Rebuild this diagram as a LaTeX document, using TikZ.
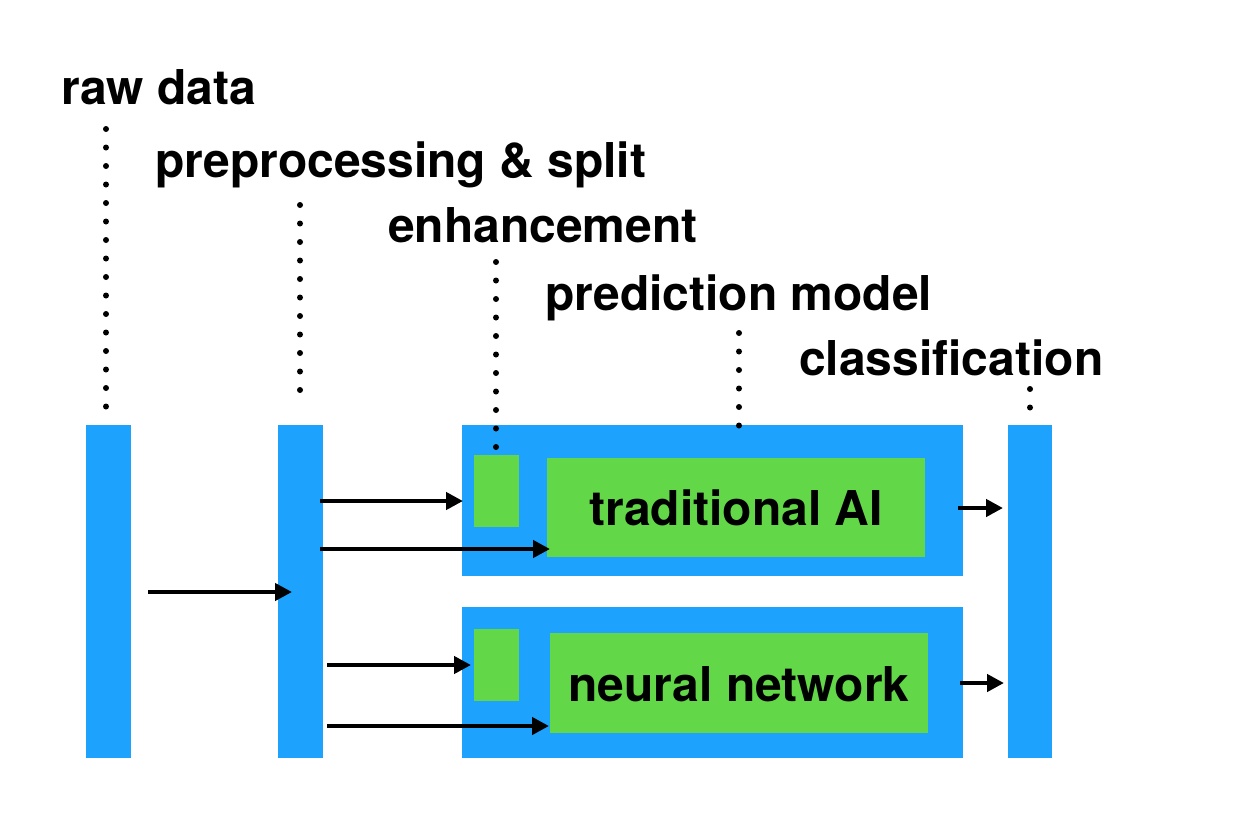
\documentclass[tikz,border=0pt]{standalone}
\usepackage{fontspec}
\setmainfont{TeX Gyre Heros}
\usetikzlibrary{arrows.meta}
\definecolor{barblue}{HTML}{1DA2FD}
\definecolor{boxgreen}{HTML}{62D747}
\tikzset{
  blk/.style={fill=barblue, draw=none, inner sep=0pt, anchor=north west},
  grn/.style={fill=boxgreen, draw=none, inner sep=0pt, anchor=north west},
  lbl/.style={anchor=base west, inner sep=0pt, font=\fontsize{48}{56}\selectfont\bfseries},
  inlbl/.style={anchor=base, inner sep=0pt, font=\fontsize{48}{56}\selectfont\bfseries},
  arr/.style={line width=4.3pt, -{Triangle[length=17pt,width=17pt]}},
  dots/.style={line width=6pt, line cap=round, dash pattern=on 0pt off 18.5pt},
}
\begin{document}
\begin{tikzpicture}[x=1pt,y=-1pt]
\useasboundingbox (0,0) rectangle (1246,830);
% bars and boxes
\node[blk, minimum width=45pt, minimum height=333pt] (raw) at (86,425) {};
\node[blk, minimum width=45pt, minimum height=333pt] (pre) at (278,425) {};
\node[blk, minimum width=501pt, minimum height=151pt] (top) at (462,425) {};
\node[blk, minimum width=501pt, minimum height=151pt] (bot) at (462,607) {};
\node[blk, minimum width=44pt, minimum height=333pt] (cls) at (1008,425) {};
\node[grn, minimum width=45pt, minimum height=72pt] (enh1) at (474,455) {};
\node[grn, minimum width=378pt, minimum height=99pt] (tai) at (547,458) {};
\node[grn, minimum width=45pt, minimum height=72pt] (enh2) at (474,629) {};
\node[grn, minimum width=378pt, minimum height=100pt] (nn) at (550,633) {};
\node[inlbl] (taiT) at (736,525) {traditional AI};
\node[inlbl] (nnT) at (739,701) {neural network};
% labels
\node[lbl] (lraw) at (61,104) {raw data};
\node[lbl] (lpre) at (155,177) {preprocessing \& split};
\node[lbl] (lenh) at (388,242) {enhancement};
\node[lbl] (lpred) at (545,310) {prediction model};
\node[lbl] (lcls) at (799,375) {classification};
% dotted leaders
\coordinate (d1a) at (106,129); \coordinate (d1b) at (106,418);
\coordinate (d2a) at (300,205); \coordinate (d2b) at (300,406);
\coordinate (d3a) at (496,262); \coordinate (d3b) at (496,462);
\coordinate (d4a) at (739,333); \coordinate (d4b) at (739,426);
\coordinate (d5a) at (1030,389); \coordinate (d5b) at (1030,408);
\draw[dots] (d1a) -- (d1b);
\draw[dots] (d2a) -- (d2b);
\draw[dots] (d3a) -- (d3b);
\draw[dots] (d4a) -- (d4b);
\draw[dots] (d5a) -- (d5b);
% arrows
\coordinate (a0s) at (148,592); \coordinate (a0e) at (292,592);
\coordinate (a1s) at (320,501); \coordinate (a1e) at (463,501);
\coordinate (a2s) at (320,549); \coordinate (a2e) at (550,549);
\coordinate (a3s) at (327,665); \coordinate (a3e) at (471,665);
\coordinate (a4s) at (327,726); \coordinate (a4e) at (549,726);
\coordinate (a5s) at (958,508); \coordinate (a5e) at (1003,508);
\coordinate (a6s) at (960,683); \coordinate (a6e) at (1004,683);
\draw[arr] (a0s) -- (a0e);
\draw[arr] (a1s) -- (a1e);
\draw[arr] (a2s) -- (a2e);
\draw[arr] (a3s) -- (a3e);
\draw[arr] (a4s) -- (a4e);
\draw[arr] (a5s) -- (a5e);
\draw[arr] (a6s) -- (a6e);
\end{tikzpicture}
\end{document}
